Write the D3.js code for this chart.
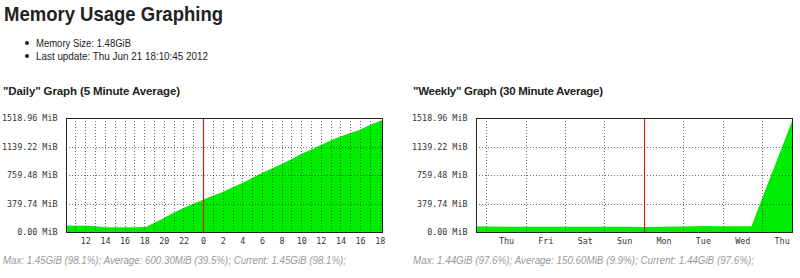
<!DOCTYPE html>
<html>
<head>
<meta charset="utf-8">
<script src="https://cdn.jsdelivr.net/npm/d3@7"></script>
<style>
body { margin: 0; background: #fff; }
svg { display: block; }
.tick text { font-family: "DejaVu Sans Mono", monospace; font-size: 8.4px; fill: #333; }
</style>
</head>
<body>
<div id="chart"></div>
<script>
// values, memory in MiB
var yTicks = [0, 379.74, 759.48, 1139.22, 1518.96];

// hours since Wed Jun 20 2012 00:00
var dailyHours = [10.03, 11, 12, 13, 14, 15, 16, 17, 18, 18.2, 19, 20, 21, 22, 23, 24, 25, 26, 27, 28, 29, 30,
	31, 32, 33, 34, 35, 36, 37, 38, 39, 40, 41, 42, 42.24];
var dailyMiB = [85, 84, 82, 75, 64, 62, 62, 64, 66, 68, 120, 187, 255, 320, 375, 430, 482, 533, 595, 653, 720, 786,
	845, 906, 970, 1039, 1095, 1160, 1218, 1274, 1320, 1363, 1425, 1480, 1485];

// days since Thu Jun 14 2012 00:00
var weeklyDays = [-0.262, 0, 0.5, 1, 1.5, 2, 2.5, 3, 3.5, 4, 4.5, 5, 5.5, 6, 6.5, 6.735, 7, 7.25, 7.5, 7.763];
var weeklyMiB = [72, 72, 70, 70, 69, 70, 70, 70, 69, 68, 70, 73, 80, 78, 76, 78, 440, 780, 1120, 1475];

var infoLines = ["Memory Size: 1.48GiB", "Last update: Thu Jun 21 18:10:45 2012"];
var graphTitles = ['"Daily" Graph (5 Minute Average)', '"Weekly" Graph (30 Minute Average)'];
var footers = [
	"Max: 1.45GiB (98.1%); Average: 600.30MiB (39.5%); Current: 1.45GiB (98.1%);",
	"Max: 1.44GiB (97.6%); Average: 150.60MiB (9.9%); Current: 1.44GiB (97.6%);"
];

var dayStart = new Date(2012, 5, 20),
	weekStart = new Date(2012, 5, 14);

var daily = dailyHours.map(function(h, i) {
	return { date: d3.timeMinute.offset(dayStart, Math.round(h * 60)), value: dailyMiB[i] };
});
var weekly = weeklyDays.map(function(d, i) {
	return { date: d3.timeMinute.offset(weekStart, Math.round(d * 1440)), value: weeklyMiB[i] };
});

var svg = d3.select("#chart").append("svg")
	.attr("width", 800)
	.attr("height", 278);

svg.append("text")
	.attr("x", 4)
	.attr("y", 21)
	.attr("textLength", 219)
	.attr("lengthAdjust", "spacingAndGlyphs")
	.style("font-family", "'Liberation Sans', Arial, sans-serif")
	.style("font-weight", "bold")
	.style("font-size", "21px")
	.style("fill", "#222")
	.text("Memory Usage Graphing");

infoLines.forEach(function(t, i) {
	svg.append("circle")
		.attr("cx", 27)
		.attr("cy", 43 + i * 13)
		.attr("r", 2)
		.style("fill", "#222");
	svg.append("text")
		.attr("x", 36)
		.attr("y", 46.5 + i * 13)
		.attr("textLength", i == 0 ? 95 : 172)
		.attr("lengthAdjust", "spacingAndGlyphs")
		.style("font-family", "'Liberation Sans', Arial, sans-serif")
		.style("font-size", "10px")
		.style("fill", "#222")
		.text(t);
});

var markers = [];

function graph(opts) {
	var left = opts.left, right = opts.left + 316,
		top = 118, bottom = 232;

	svg.append("text")
		.attr("x", opts.left - 63)
		.attr("y", 95)
		.attr("textLength", opts.titleWidth)
		.style("font-family", "'Liberation Sans', Arial, sans-serif")
		.style("font-weight", "bold")
		.style("font-size", "11.5px")
		.style("fill", "#222")
		.text(opts.title);

	var x = d3.scaleTime().domain(opts.domain).range([left, right]);
	var y = d3.scaleLinear().domain([0, 1518.96]).range([bottom, top]);

	var area = d3.area()
		.x(function(d) { return x(d.date); })
		.y0(y(0))
		.y1(function(d) { return y(d.value); });

	svg.append("path")
		.datum(opts.data)
		.attr("d", area)
		.style("fill", "#00ec00");

	// dotted grid drawn over the area, skipping the red marker
	var markX = Math.round(x(opts.mark)) + 0.5;
	markers.push({ x: markX, top: top, bottom: bottom });

	var gridX = opts.grid
		.map(function(d) { return Math.round(x(d)) + 0.5; })
		.filter(function(px) { return Math.abs(px - markX) > 2; });

	svg.append("g").selectAll("line")
		.data(gridX)
		.enter().append("line")
		.attr("x1", function(d) { return d; })
		.attr("x2", function(d) { return d; })
		.attr("y1", top)
		.attr("y2", bottom)
		.style("stroke", "#333")
		.style("stroke-opacity", 0.7)
		.style("stroke-dasharray", "1,2");

	svg.append("g").selectAll("line")
		.data(yTicks.slice(1, -1))
		.enter().append("line")
		.attr("x1", left)
		.attr("x2", right)
		.attr("y1", function(d) { return Math.round(y(d)) + 0.5; })
		.attr("y2", function(d) { return Math.round(y(d)) + 0.5; })
		.style("stroke", "#333")
		.style("stroke-opacity", 0.7)
		.style("stroke-dasharray", "1,2");

	svg.append("rect")
		.attr("x", left + 0.5)
		.attr("y", top + 0.5)
		.attr("width", right - left)
		.attr("height", bottom - top)
		.style("fill", "none")
		.style("stroke", "#222");

	var yAxis = d3.axisLeft(y)
		.tickValues(yTicks)
		.tickSize(0)
		.tickPadding(8.5)
		.tickFormat(function(d) { return d.toFixed(2) + " MiB"; });

	svg.append("g")
		.attr("transform", "translate(" + left + ",0)")
		.call(yAxis)
		.call(function(g) { g.select(".domain").remove(); });

	var xAxis = d3.axisBottom(x)
		.tickValues(opts.labels)
		.tickSize(0)
		.tickPadding(6)
		.tickFormat(opts.format);

	svg.append("g")
		.attr("transform", "translate(0," + bottom + ")")
		.call(xAxis)
		.call(function(g) { g.select(".domain").remove(); });

	svg.append("text")
		.attr("x", opts.left - 63)
		.attr("y", 264)
		.attr("textLength", opts.footerWidth)
		.attr("lengthAdjust", "spacingAndGlyphs")
		.style("font-family", "'Liberation Sans', Arial, sans-serif")
		.style("font-style", "italic")
		.style("font-size", "10px")
		.style("fill", "#999")
		.text(opts.footer);
}

var dDomain = [daily[0].date, daily[daily.length - 1].date];
graph({
	left: 66,
	title: graphTitles[0],
	titleWidth: 177,
	footer: footers[0],
	footerWidth: 343,
	data: daily,
	domain: dDomain,
	grid: d3.timeHour.range(dDomain[0], dDomain[1]),
	labels: d3.timeHour.every(2).range(dDomain[0], dDomain[1]),
	format: d3.timeFormat("%-H"),
	mark: new Date(2012, 5, 21)
});

var wDomain = [weekly[0].date, weekly[weekly.length - 1].date];
graph({
	left: 476,
	title: graphTitles[1],
	titleWidth: 190,
	footer: footers[1],
	footerWidth: 341,
	data: weekly,
	domain: wDomain,
	grid: d3.timeDay.range(wDomain[0], wDomain[1]),
	labels: d3.timeDay.range(wDomain[0], wDomain[1]).map(function(d) { return d3.timeHour.offset(d, 12); }),
	format: d3.timeFormat("%a"),
	mark: new Date(2012, 5, 18)
});

// day / week boundary markers, drawn last
svg.append("g").selectAll("line")
	.data(markers)
	.enter().append("line")
	.attr("x1", function(d) { return d.x; })
	.attr("x2", function(d) { return d.x; })
	.attr("y1", function(d) { return d.top + 1; })
	.attr("y2", function(d) { return d.bottom; })
	.attr("stroke", "#d41c10")
	.attr("stroke-width", 1.2);
</script>
</body>
</html>
